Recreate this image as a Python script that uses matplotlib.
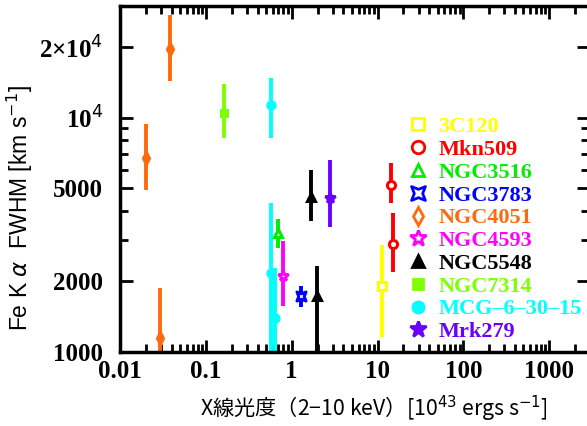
import matplotlib
matplotlib.use('Agg')
import matplotlib.pyplot as plt
from matplotlib.lines import Line2D
from matplotlib.path import Path
from matplotlib.ticker import FixedLocator, FixedFormatter, NullFormatter
import numpy as np

# 天体ごとのデータ: X線光度, FWHM, 誤差下端, 誤差上端
names = ['3C120', 'Mkn509', 'NGC3516', 'NGC3783', 'NGC4051',
         'NGC4593', 'NGC5548', 'NGC7314', 'MCG–6–30–15', 'Mrk279']
lum = [[11.4], [14.3, 15.2], [0.695], [1.28], [0.038, 0.020, 0.029],
       [0.79], [1.70, 1.98], [0.163], [0.57, 0.57, 0.64], [2.80]]
fwhm = [[1910], [5180, 2885], [3215], [1735], [19600, 6740, 1140],
        [2110], [4570, 1735], [10500], [11300, 2170, 1390], [4540]]
fwhm_lo = [[1160], [4325, 2180], [2775], [1560], [14350, 4930, 600],
           [1570], [3605, 600], [8200], [8200, 600, 600], [3400]]
fwhm_hi = [[2865], [6410, 3920], [3690], [1900], [27400, 9360, 1870],
           [2960], [6000, 2330], [13900], [14800, 4325, 2275], [6620]]

colors = ['#ffff00', '#ff0000', '#00ee00', '#0000ff', '#ff6a10',
          '#ff00ff', '#000000', '#7fff00', '#00ffff', '#6a00ff']

# NGC3783 用のへこんだ四角マーカー
concave = Path([(-1, -1), (0, -0.6), (1, -1), (0.6, 0), (1, 1), (0, 0.6),
                (-1, 1), (-0.6, 0), (-1, -1)],
               [Path.MOVETO] + [Path.LINETO] * 7 + [Path.CLOSEPOLY])
markers = ['s', 'o', '^', concave, 'd', '*', '^', 's', 'o', '*']
filled = [False, False, False, False, False, False, True, True, True, True]
msizes = [8, 9, 9, 10, 9, 12, 9, 7, 8, 12]

fig = plt.figure(figsize=(5.87, 4.26), dpi=100)
ax = fig.add_axes([0.2044, 0.1744, 0.799, 0.8115])
plt.rcParams['mathtext.fontset'] = 'stix'

handles = []
for i, n in enumerate(names):
    x = np.array(lum[i])
    y = np.array(fwhm[i])
    yerr = [y - np.array(fwhm_lo[i]), np.array(fwhm_hi[i]) - y]
    c = colors[i]
    fc = c if filled[i] else 'white'
    # 図中の小さい菱形は塗りつぶしに見える
    pfc = c if n == 'NGC4051' else fc
    ax.errorbar(x, y, yerr=yerr, fmt='none', ecolor=c, elinewidth=2.8,
                capsize=0, zorder=2)
    ax.plot(x, y, ls='none', marker=markers[i], ms=msizes[i] * 0.65,
            mfc=pfc, mec=c, mew=2.2, zorder=3)
    handles.append(Line2D([], [], ls='none', marker=markers[i],
                          ms=msizes[i], mfc=fc, mec=c, mew=2))

ax.set_xscale('log')
ax.set_yscale('log')
ax.set_xlim(0.01, 2900)
ax.set_ylim(1000, 30000)

ax.yaxis.set_major_locator(FixedLocator([1000, 2000, 5000, 10000, 20000]))
ax.yaxis.set_major_formatter(FixedFormatter(['1000', '2000', '5000',
                                             r'10$^4$', r'2×10$^4$']))
ax.yaxis.set_minor_locator(FixedLocator([3000, 4000, 6000, 7000, 8000,
                                         9000, 30000]))
ax.yaxis.set_minor_formatter(NullFormatter())
ax.set_xticks([0.01, 0.1, 1, 10, 100, 1000])
ax.set_xticklabels(['0.01', '0.1', '1', '10', '100', '1000'])

for s in ax.spines.values():
    s.set_linewidth(2.5)
ax.tick_params(which='both', direction='in', top=True, right=True,
               width=2, labelsize=18)
ax.tick_params(which='major', length=9)
ax.tick_params(which='minor', length=5.5)
ax.tick_params(axis='y', pad=12)
ax.tick_params(axis='x', pad=6)
for lab in ax.get_xticklabels() + ax.get_yticklabels():
    lab.set_family('Liberation Serif')
    lab.set_fontweight('bold')

ax.set_ylabel(r'Fe K $\alpha$  FWHM [km s$^{-1}$]', family='Liberation Sans',
              fontsize=16.5)
ax.yaxis.set_label_coords(-0.181, 0.416)
ax.set_xlabel('X線光度（2−10 keV）[10$^{43}$ ergs s$^{-1}$]',
              family=['Noto Sans CJK JP', 'DejaVu Sans'], fontsize=15.3)
ax.xaxis.set_label_coords(0.5416, -0.122)

leg = ax.legend(handles, names, loc='upper left',
                bbox_to_anchor=(0.612, 0.68), frameon=False,
                prop={'family': 'Liberation Serif', 'weight': 'bold', 'size': 16},
                handlelength=1.0, handletextpad=0.4, labelspacing=0.1,
                borderpad=0, borderaxespad=0)
for t, c in zip(leg.get_texts(), colors):
    t.set_color(c)

plt.savefig('out.png', dpi=100)
